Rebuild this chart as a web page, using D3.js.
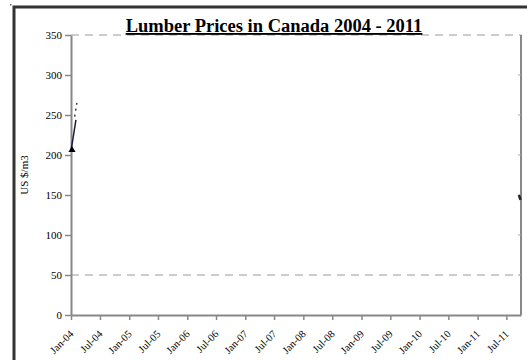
<!DOCTYPE html>
<html>
<head>
<meta charset="utf-8">
<script src="https://cdn.jsdelivr.net/npm/d3@7"></script>
<style>
  body { margin: 0; background: #fff; }
  svg { display: block; }
</style>
</head>
<body>
<div id="chart"></div>
<script>
// values
const yTicks = [0, 50, 100, 150, 200, 250, 300, 350];
const xTickLabels = ["Jan-04", "Jul-04", "Jan-05", "Jul-05", "Jan-06", "Jul-06", "Jan-07", "Jul-07",
                     "Jan-08", "Jul-08", "Jan-09", "Jul-09", "Jan-10", "Jul-10", "Jan-11", "Jul-11"];
const startDates = ["2004-01-01", "2004-02-01"];
const startValues = [205, 244];
const startDates2 = ["2004-01-24", "2004-02-08"];
const startValues2 = [248, 266];
const endDates = ["2011-09-18", "2011-09-28"];
const endValues = [150, 144];

const width = 527;
const height = 360;
const margin = { top: 35, right: 6, bottom: 45, left: 71 };

const parse = d3.timeParse("%Y-%m-%d");

const svg = d3.select("#chart")
    .append("svg")
    .attr("width", width)
    .attr("height", height);

// outer frame
svg.append("path")
    .attr("d", `M14,${height} L14,7 L${width},7`)
    .attr("fill", "none")
    .attr("stroke", "#333")
    .attr("stroke-width", 3);
svg.append("rect").attr("x", 10).attr("y", 4).attr("width", 1.5).attr("height", 1.5).attr("fill", "#666");

const x = d3.scaleTime()
    .domain([parse("2004-01-01"), parse("2011-10-01")])
    .range([margin.left, width - margin.right]);

const y = d3.scaleLinear()
    .domain([0, 350])
    .range([height - margin.bottom, margin.top]);

// dashed gridlines
svg.selectAll(".grid")
    .data([50, 350])
    .enter().append("line")
    .attr("x1", margin.left)
    .attr("x2", width - margin.right)
    .attr("y1", d => y(d))
    .attr("y2", d => y(d))
    .attr("stroke", "#999")
    .attr("stroke-width", 1)
    .attr("stroke-dasharray", "8,6");

// right border
svg.append("line")
    .attr("x1", width - margin.right).attr("x2", width - margin.right)
    .attr("y1", y(350)).attr("y2", y(0))
    .attr("stroke", "#888").attr("stroke-width", 2);
svg.selectAll(".rtick")
    .data(yTicks.slice(1, -1))
    .enter().append("line")
    .attr("x1", width - margin.right - 3).attr("x2", width - margin.right)
    .attr("y1", d => y(d)).attr("y2", d => y(d))
    .attr("stroke", "#aaa");

// y axis
const yAxis = svg.append("g")
    .attr("transform", `translate(${margin.left},0)`)
    .call(d3.axisLeft(y).tickValues(yTicks).tickSize(6).tickSizeOuter(0));
yAxis.select(".domain").attr("stroke", "#888").attr("stroke-width", 2);
yAxis.selectAll(".tick line").attr("stroke", "#888").attr("stroke-width", 1.5);
yAxis.selectAll("text")
    .attr("font-family", "Liberation Serif, Times New Roman, serif")
    .attr("font-size", 11)
    .attr("fill", "#000")
    .attr("x", -9);

// x axis
const xTicks = d3.timeMonth.every(6).range(parse("2004-01-01"), parse("2011-08-01"));
const xAxis = svg.append("g")
    .attr("transform", `translate(0,${y(0)})`)
    .call(d3.axisBottom(x).tickValues(xTicks).tickSize(5).tickSizeOuter(0)
        .tickFormat((d, i) => xTickLabels[i]));
xAxis.select(".domain").attr("stroke", "#888").attr("stroke-width", 2);
xAxis.selectAll(".tick line").attr("stroke", "#888").attr("stroke-width", 1.5);
xAxis.selectAll("text")
    .attr("font-family", "Liberation Serif, Times New Roman, serif")
    .attr("font-size", 10.5)
    .attr("fill", "#000")
    .attr("text-anchor", "end")
    .attr("dy", 0)
    .attr("transform", "translate(-3,14) rotate(-45)");

// y axis title
svg.append("text")
    .attr("transform", `translate(28,${y(175)}) rotate(-90)`)
    .attr("text-anchor", "middle")
    .attr("font-family", "Liberation Serif, Times New Roman, serif")
    .attr("font-size", 11)
    .text("US $/m3");

// series
const line = d3.line()
    .x(d => x(d.date))
    .y(d => y(d.value));

const s1 = startDates.map((d, i) => ({ date: parse(d), value: startValues[i] }));
const s2 = startDates2.map((d, i) => ({ date: parse(d), value: startValues2[i] }));
const s3 = endDates.map((d, i) => ({ date: parse(d), value: endValues[i] }));

svg.append("path")
    .datum(s1)
    .attr("fill", "none")
    .attr("stroke", "#1a1a40")
    .attr("stroke-width", 1.5)
    .attr("d", line);

svg.append("path")
    .datum(s2)
    .attr("fill", "none")
    .attr("stroke", "#111")
    .attr("stroke-width", 1.2)
    .attr("stroke-dasharray", "2,4")
    .attr("d", line);

svg.append("path")
    .datum(s3)
    .attr("fill", "none")
    .attr("stroke", "#222")
    .attr("stroke-width", 2.5)
    .attr("d", line);

svg.append("path")
    .attr("d", d3.symbol().type(d3.symbolTriangle).size(22))
    .attr("transform", `translate(${x(s1[0].date) + 1},${y(s1[0].value) - 1})`)
    .attr("fill", "#000");

// title
svg.append("text")
    .attr("x", 274)
    .attr("y", 32)
    .attr("text-anchor", "middle")
    .attr("font-family", "Liberation Serif, Times New Roman, serif")
    .attr("font-weight", "bold")
    .attr("font-size", 18.5)
    .attr("text-decoration", "underline")
    .text("Lumber Prices in Canada 2004 - 2011");
</script>
</body>
</html>
